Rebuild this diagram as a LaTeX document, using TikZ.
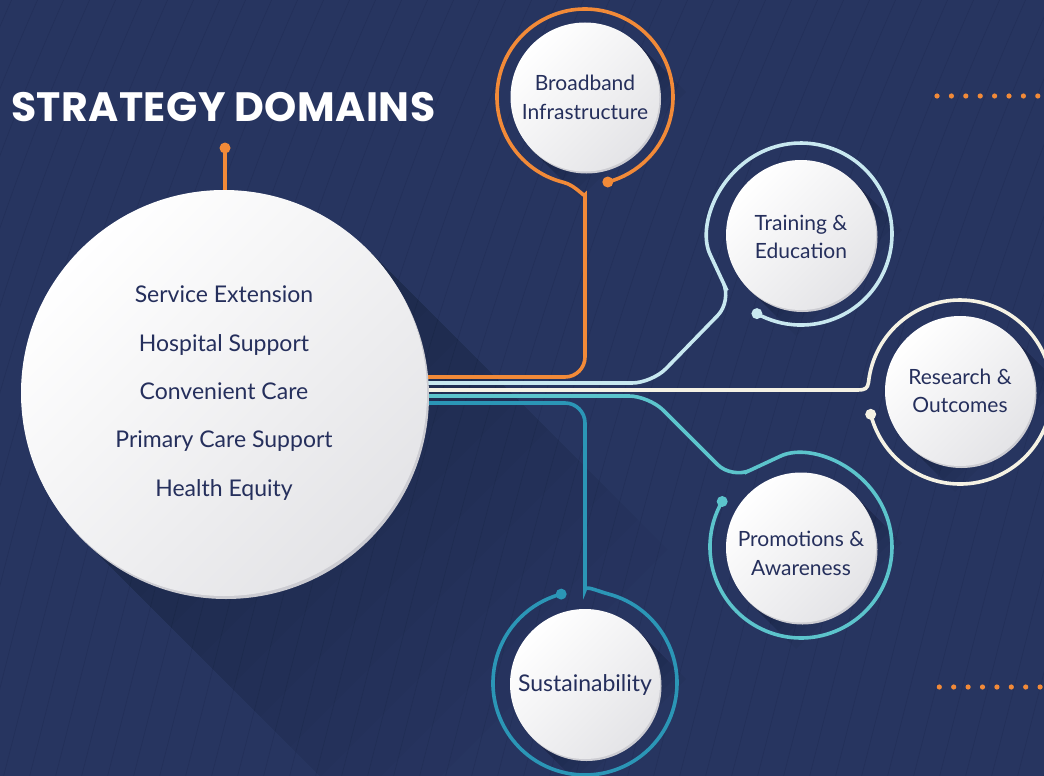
\documentclass[tikz,border=0pt]{standalone}
\usepackage{fontspec}
\setmainfont{Lato}
\newfontfamily\titlefont{Poppins}[LetterSpace=1]
\definecolor{bg}{RGB}{39,53,96}
\definecolor{bgline}{RGB}{35,48,89}
\definecolor{txt}{RGB}{37,47,92}
\definecolor{cg}{RGB}{228,228,231}
\definecolor{rim}{RGB}{204,204,210}
\definecolor{corange}{RGB}{242,138,56}
\definecolor{cltblue}{RGB}{200,232,240}
\definecolor{ccream}{RGB}{245,242,228}
\definecolor{cteal}{RGB}{92,196,204}
\definecolor{cdteal}{RGB}{43,150,182}
\newcommand\cshadow[2]{%
  \foreach \L in {6,12,...,48}
    \fill[black,opacity=.03] ({#1+53},{#2-53}) -- ++(\L,\L) -- ++(-106,106) -- ({#1-53},{#2+53}) -- cycle;}
\begin{document}
\begin{tikzpicture}[x=1pt,y=1pt,yscale=-1,
  conn/.style={line width=3.6pt},
  wcirc/.style={circle, inner sep=0pt, top color=white, bottom color=cg, shading angle=45, text=txt, align=center},
  lbl/.style={text=txt, align=center, inner sep=0pt, font=\fontsize{21}{28.5}\selectfont}]
\useasboundingbox (0,0) rectangle (1044,776);
\fill[bg] (0,0) rectangle (1044,776);
% background texture
\foreach \i in {-12,...,44}
  \draw[bgline, line width=.6pt] (\i*26,790) .. controls (\i*26+70,520) and (\i*26+120,280) .. (\i*26+250,-10);
% long shadows
\foreach \L in {30,60,...,300}
  \fill[black, opacity=.02] (367.5,249.5) -- ++(\L,\L) -- ++(-287,287) -- (80.5,536.5) -- cycle;
\cshadow{585}{97}
\cshadow{801}{235}
\cshadow{960}{391}
\cshadow{801}{548}
\cshadow{585}{684}
% connectors
\draw[conn, corange] (225,148) -- (225,195);
\fill[corange] (225,148) circle (5.5);
\draw[conn, corange, rounded corners=20pt] (420,377) -- (585,377) -- (585,215) [sharp corners] .. controls (585,198) and (575.3,185.3) .. (563.7,182.4) arc[start angle=104, end angle=435, radius=88];
\fill[corange] (607.8,182) circle (5.5);
\draw[conn, cltblue, rounded corners=20pt] (420,383) -- (652,383) -- (731.8,301) -- (718.5,272.5) [sharp corners] arc[start angle=155, end angle=479, radius=91];
\fill[cltblue] (756.9,313.6) circle (5.5);
\draw[conn, ccream] (420,390) -- (858,390) .. controls (865,390) and (867.7,388.4) .. (868.5,382.4) arc[start angle=186, end angle=526, radius=92];
\fill[ccream] (870.7,414.3) circle (5.5);
\draw[conn, cteal, rounded corners=20pt] (420,396) -- (649,396) -- (731.8,478.8) -- (762.5,464.5) [sharp corners] arc[start angle=245, end angle=570, radius=91];
\fill[cteal] (722.2,501.5) circle (5.5);
\draw[conn, cdteal, rounded corners=20pt] (420,403) -- (585,403) -- (585,570) [sharp corners] .. controls (585,585) and (597.2,591) .. (608.8,594.1) arc[start angle=285, end angle=615, radius=92];
\fill[cdteal] (561.2,594.1) circle (5.5);
% circles
\fill[rim] (226,396) circle (203);
\node[wcirc, minimum size=406pt, font=\fontsize{23}{48.3}\selectfont] (hub) at (224,393) {Service Extension\\Hospital Support\\Convenient Care\\Primary Care Support\\Health Equity};
\fill[rim] (586.5,99) circle (74.5);
\node[wcirc, minimum size=149pt] (bb) at (585,97) {};
\node[lbl] (bbt) at (585,97.5) {Broadband\\Infrastructure};
\fill[rim] (802.5,237) circle (75);
\node[wcirc, minimum size=150pt] (te) at (801,235) {};
\node[lbl] (tet) at (801,237) {Training \&\\Education};
\fill[rim] (961.5,393) circle (75);
\node[wcirc, minimum size=150pt] (ro) at (960,391) {};
\node[lbl] (rot) at (960,391) {Research \&\\Outcomes};
\fill[rim] (802.5,549.5) circle (75);
\node[wcirc, minimum size=150pt] (pa) at (801,547.5) {};
\node[lbl] (pat) at (801,553.5) {Promotions \&\\Awareness};
\fill[rim] (586.5,686) circle (75);
\node[wcirc, minimum size=150pt] (su) at (585,684) {};
\node[lbl, font=\fontsize{23}{28.5}\selectfont] (sut) at (585,685) {Sustainability};
% title
\node[anchor=base west, inner sep=0pt, text=white, font=\titlefont\bfseries\fontsize{41}{41}\selectfont] (title) at (11,121) {STRATEGY DOMAINS};
% decorative dots
\foreach \i in {0,...,7} {
  \fill[corange] ({937+14.4*\i},96) circle (2.6);
  \fill[corange] ({939.3+14.4*\i},687) circle (2.6);
}
\end{tikzpicture}
\end{document}
